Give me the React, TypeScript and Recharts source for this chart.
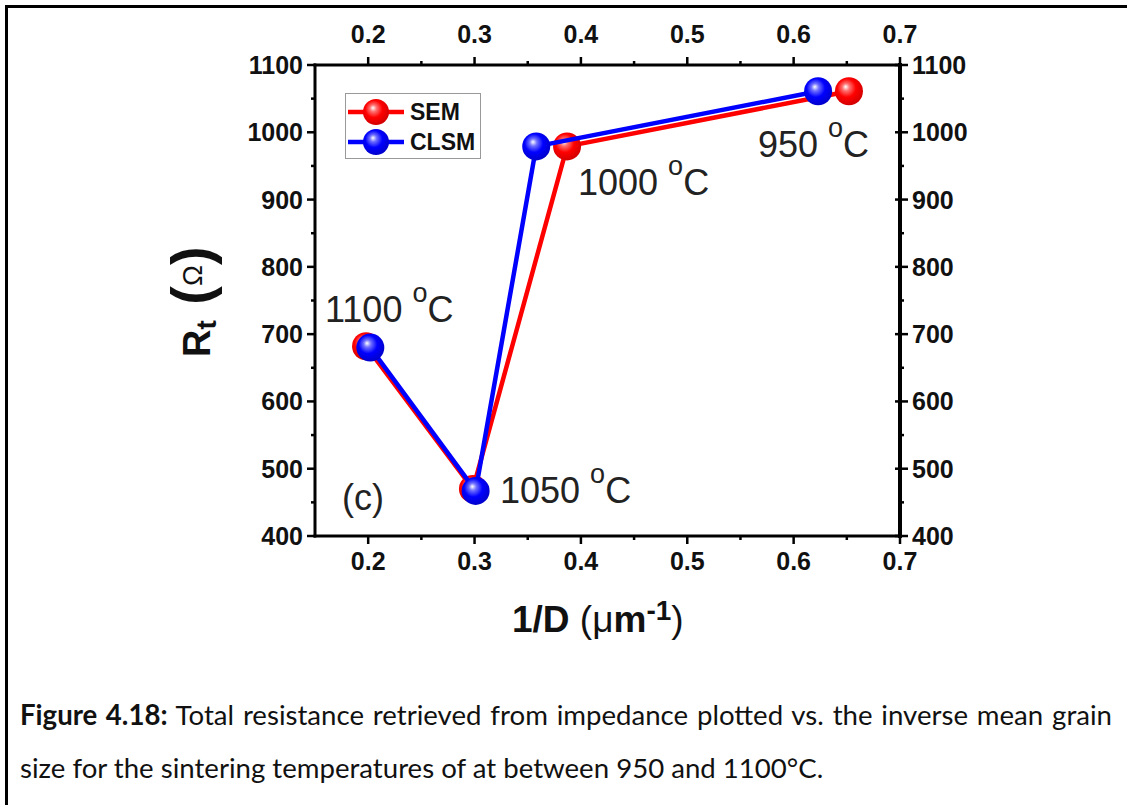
import React from "react";
import {
  ScatterChart,
  Scatter,
  XAxis,
  YAxis,
  Legend,
} from "recharts";

// 1/D (um^-1) and Rt (ohm)
const semX = [0.198, 0.2985, 0.387, 0.652];
const semY = [682, 470, 979, 1061];
const clsmX = [0.202, 0.301, 0.358, 0.623];
const clsmY = [680, 467, 979, 1061];

const xTicks = [0.2, 0.25, 0.3, 0.35, 0.4, 0.45, 0.5, 0.55, 0.6, 0.65, 0.7];
const xMajor = [0.2, 0.3, 0.4, 0.5, 0.6, 0.7];
const yTicks = [400, 450, 500, 550, 600, 650, 700, 750, 800, 850, 900, 950, 1000, 1050, 1100];
const yMajor = [400, 500, 600, 700, 800, 900, 1000, 1100];

const semData = semX.map((x, i) => ({ x, y: semY[i] }));
const clsmData = clsmX.map((x, i) => ({ x, y: clsmY[i] }));

const FONT = "'Liberation Sans', Arial, sans-serif";

const isMajor = (list: number[], v: number) => list.some((m) => Math.abs(m - v) < 1e-6);

const XTick = (props: any) => {
  const { x, y, payload, side } = props;
  const v = payload.value;
  const major = isMajor(xMajor, v);
  const dir = side === "top" ? -1 : 1;
  const len = major ? 8 : 4;
  return (
    <g>
      <line x1={x} x2={x} y1={y} y2={y + dir * len} stroke="#000" strokeWidth={2.5} />
      {major && (
        <text
          x={x}
          y={side === "top" ? y - 22 : y + 34}
          textAnchor="middle"
          fontFamily={FONT}
          fontWeight="bold"
          fontSize={25}
          fill="#111"
        >
          {v.toFixed(1)}
        </text>
      )}
    </g>
  );
};

const YTick = (props: any) => {
  const { x, y, payload, side } = props;
  const v = payload.value;
  const major = isMajor(yMajor, v);
  const len = major ? 8 : 4;
  const right = side === "right";
  return (
    <g>
      {right ? (
        <line x1={x - (major ? 5 : 0)} x2={x + len} y1={y} y2={y} stroke="#000" strokeWidth={2.5} />
      ) : (
        <line x1={x} x2={x - len} y1={y} y2={y} stroke="#000" strokeWidth={2.5} />
      )}
      {major && (
        <text
          x={right ? x + 12 : x - 12}
          y={y + 9}
          textAnchor={right ? "start" : "end"}
          fontFamily={FONT}
          fontWeight="bold"
          fontSize={25}
          fill="#111"
        >
          {v}
        </text>
      )}
    </g>
  );
};

const Sphere = ({ cx, cy, id }: any) => (
  <circle cx={cx} cy={cy} r={14} fill={`url(#${id})`} />
);

const LegendBox = () => (
  <div style={{ width: 134, height: 64, border: "1px solid #999", background: "#fff" }}>
    <svg width={134} height={64}>
      {[
        { name: "SEM", color: "#ff0000", id: "gRed", cy: 18 },
        { name: "CLSM", color: "#0000ff", id: "gBlue", cy: 48 },
      ].map((s) => (
        <g key={s.name}>
          <line x1={2} x2={58} y1={s.cy} y2={s.cy} stroke={s.color} strokeWidth={4.5} />
          <circle cx={30} cy={s.cy} r={13} fill={`url(#${s.id})`} />
          <text x={64} y={s.cy + 8} fontFamily={FONT} fontWeight="bold" fontSize={23} fill="#111">
            {s.name}
          </text>
        </g>
      ))}
    </svg>
  </div>
);

const Temp = ({ x, y, t }: { x: number; y: number; t: string }) => (
  <text x={x} y={y} fontFamily={FONT} fontSize={36} fill="#222">
    {t + " "}
    <tspan dy={-20} fontSize={27}>o</tspan>
    <tspan dy={20}>C</tspan>
  </text>
);

export default function App() {
  return (
    <div
      style={{
        position: "absolute",
        left: 0,
        top: 0,
        width: 1127,
        height: 805,
        overflow: "hidden",
        background: "#fff",
      }}
    >
      <svg width={0} height={0} style={{ position: "absolute" }}>
        <defs>
          <radialGradient id="gRed" cx="45%" cy="42%" r="60%" fx="38%" fy="34%">
            <stop offset="0%" stopColor="#ffffff" />
            <stop offset="22%" stopColor="#ff7070" />
            <stop offset="55%" stopColor="#ff0000" />
            <stop offset="100%" stopColor="#d00000" />
          </radialGradient>
          <radialGradient id="gBlue" cx="45%" cy="42%" r="60%" fx="38%" fy="34%">
            <stop offset="0%" stopColor="#ffffff" />
            <stop offset="22%" stopColor="#7070ff" />
            <stop offset="55%" stopColor="#0000ff" />
            <stop offset="100%" stopColor="#0000c8" />
          </radialGradient>
        </defs>
      </svg>

      {/* figure frame */}
      <div
        style={{
          position: "absolute",
          left: 5,
          top: 5,
          width: 1200,
          height: 900,
          borderTop: "3px solid #000",
          borderLeft: "3px solid #000",
        }}
      />

      <div style={{ position: "absolute", left: 0, top: 0 }}>
        <ScatterChart
          width={1127}
          height={660}
          margin={{ top: 35, right: 167, bottom: 94, left: 255 }}
        >
          <XAxis
            xAxisId="bottom"
            dataKey="x"
            type="number"
            domain={[0.15, 0.7]}
            ticks={xTicks}
            interval={0}
            height={30}
            tickSize={0}
            tickMargin={0}
            tickLine={false}
            axisLine={{ stroke: "#000", strokeWidth: 3, strokeLinecap: "square" }}
            tick={<XTick side="bottom" />}
            allowDataOverflow
          />
          <XAxis
            xAxisId="top"
            orientation="top"
            dataKey="x"
            type="number"
            domain={[0.15, 0.7]}
            ticks={xTicks}
            interval={0}
            height={30}
            tickSize={0}
            tickMargin={0}
            tickLine={false}
            axisLine={{ stroke: "#000", strokeWidth: 3, strokeLinecap: "square" }}
            tick={<XTick side="top" />}
            allowDataOverflow
          />
          <YAxis
            yAxisId="left"
            dataKey="y"
            type="number"
            domain={[400, 1100]}
            ticks={yTicks}
            interval={0}
            width={60}
            tickSize={0}
            tickMargin={0}
            tickLine={false}
            axisLine={{ stroke: "#000", strokeWidth: 3, strokeLinecap: "square" }}
            tick={<YTick side="left" />}
            allowDataOverflow
          />
          <YAxis
            yAxisId="right"
            orientation="right"
            dataKey="y"
            type="number"
            domain={[400, 1100]}
            ticks={yTicks}
            interval={0}
            width={60}
            tickSize={0}
            tickMargin={0}
            tickLine={false}
            axisLine={{ stroke: "#000", strokeWidth: 4, strokeLinecap: "square" }}
            tick={<YTick side="right" />}
            allowDataOverflow
          />
          <Legend
            layout="vertical"
            align="center"
            verticalAlign="middle"
            content={() => <LegendBox />}
            wrapperStyle={{ left: 345, top: 93, width: 136, height: 66 }}
          />
          <Scatter
            name="SEM"
            data={semData}
            xAxisId="bottom"
            yAxisId="left"
            line={{ stroke: "#ff0000", strokeWidth: 4.5 }}
            lineType="joint"
            shape={(p: any) => <Sphere cx={p.cx} cy={p.cy} id="gRed" />}
            isAnimationActive={false}
          />
          <Scatter
            name="CLSM"
            data={clsmData}
            xAxisId="bottom"
            yAxisId="left"
            line={{ stroke: "#0000ff", strokeWidth: 4.5 }}
            lineType="joint"
            shape={(p: any) => <Sphere cx={p.cx} cy={p.cy} id="gBlue" />}
            isAnimationActive={false}
          />
        </ScatterChart>
      </div>

      {/* annotations and axis titles */}
      <svg
        width={1127}
        height={660}
        style={{ position: "absolute", left: 0, top: 0, pointerEvents: "none" }}
      >
        <Temp x={325} y={322} t="1100" />
        <Temp x={500} y={503} t="1050" />
        <Temp x={578} y={195} t="1000" />
        <Temp x={758} y={157} t="950" />
        <text x={342} y={510} fontFamily={FONT} fontSize={36} fill="#222">
          (c)
        </text>

        <text x={512} y={632} fontFamily={FONT} fontSize={37} fontWeight="bold" fill="#111">
          1/D{" "}
          <tspan fontWeight="normal">(</tspan>
          <tspan fontWeight="normal">μ</tspan>
          <tspan>m</tspan>
          <tspan dy={-12} fontSize={28}>-1</tspan>
          <tspan dy={12} fontWeight="normal">)</tspan>
        </text>

        <g transform="translate(210, 357) rotate(-90)">
          <text x={0} y={0} fontFamily={FONT} fontSize={38} fontWeight="bold" fill="#111">
            R
            <tspan dy={6} fontSize={28}>t</tspan>
            <tspan dy={-6} fontSize={56}>{" ("}</tspan>
            <tspan dy={-8} fontSize={28} fontWeight="normal">Ω</tspan>
            <tspan dy={8} fontSize={56}>)</tspan>
          </text>
        </g>
      </svg>

      {/* caption */}
      <div
        style={{
          position: "absolute",
          left: 20,
          top: 700,
          width: 1092,
          fontFamily: "Lato, 'Open Sans', sans-serif",
          fontSize: 27.6,
          lineHeight: "30px",
          color: "#111",
        }}
      >
        <div style={{ textAlign: "justify", textAlignLast: "justify", whiteSpace: "nowrap" }}>
          <b>Figure 4.18:</b> Total resistance retrieved from impedance plotted vs. the inverse mean grain
        </div>
        <div style={{ marginTop: 23 }}>
          size for the sintering temperatures of at between 950 and 1100°C.
        </div>
      </div>
    </div>
  );
}
